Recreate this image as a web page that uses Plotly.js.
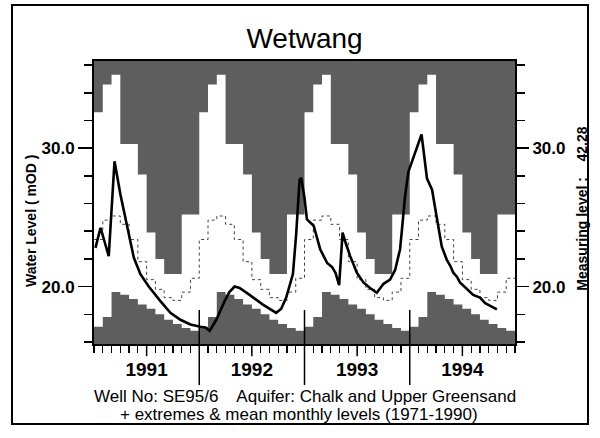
<!DOCTYPE html>
<html>
<head>
<meta charset="utf-8">
<script src="https://cdn.plot.ly/plotly-3.0.1.min.js"></script>
<style>
html,body{margin:0;padding:0;background:#fff;}
#chart{width:600px;height:438px;}
</style>
</head>
<body>
<div id="chart"></div>
<script>
// ---- data ----
const years = [1991, 1992, 1993, 1994];
const yearLabels = ['1991', '1992', '1993', '1994'];
// monthly extremes and mean levels 1971-1990 (Jan..Dec), mOD
const monthMax  = [32.6, 34.6, 35.3, 30.3, 30.3, 28.1, 23.9, 22.0, 20.9, 20.9, 25.2, 25.2];
const monthMin  = [17.1, 17.8, 19.6, 19.4, 19.1, 18.7, 18.4, 18.0, 17.6, 17.3, 17.0, 16.8];
const monthMean = [23.4, 24.8, 25.1, 24.5, 23.4, 21.8, 20.5, 19.8, 19.2, 19.0, 19.6, 20.6];
// observed levels (time in decimal years)
const obsTime = [
  1991.014, 1991.062, 1991.140, 1991.195, 1991.251, 1991.315, 1991.378, 1991.441, 1991.520,
  1991.631, 1991.726, 1991.821, 1991.916, 1992.011, 1992.058, 1992.099, 1992.162, 1992.241,
  1992.286, 1992.336, 1992.383, 1992.478, 1992.605, 1992.731, 1992.779, 1992.826, 1992.890,
  1992.921, 1992.953, 1992.969, 1993.000, 1993.023, 1993.087, 1993.149, 1993.215, 1993.263,
  1993.294, 1993.329, 1993.362, 1993.389, 1993.434, 1993.497, 1993.560, 1993.623, 1993.687,
  1993.751, 1993.813, 1993.861, 1993.908, 1993.927, 1993.955, 1993.987, 1994.031, 1994.112,
  1994.164, 1994.212, 1994.243, 1994.275, 1994.304, 1994.351, 1994.385, 1994.414, 1994.449,
  1994.477, 1994.544, 1994.603, 1994.667, 1994.717, 1994.765, 1994.828
];
const obsLevel = [
  22.8, 24.25, 22.2, 29.05, 26.65, 24.25, 22.1, 20.9, 20.0,
  18.95, 18.1, 17.6, 17.26, 17.1, 17.05, 16.8, 17.6, 18.95,
  19.6, 20.0, 19.9, 19.4, 18.7, 18.1, 18.4, 19.2, 20.9,
  23.8, 27.7, 27.85, 26.4, 24.85, 24.4, 22.7, 21.7, 21.4,
  21.0, 20.1, 23.9, 23.2, 22.2, 21.0, 20.3, 19.9, 19.55,
  20.2, 20.5, 21.2, 22.7, 24.2, 26.5, 28.3, 29.2, 31.0,
  27.8, 27.0, 25.6, 24.1, 22.9, 21.95, 21.5, 21.0, 20.7,
  20.3, 19.8, 19.4, 19.2, 18.8, 18.6, 18.35
];
const yTickVals = [20, 30];
const yTickText = ['20.0', '30.0'];
const titleText = 'Wetwang';
const yTitle = 'Water Level ( mOD )';
const y2Title = 'Measuring level :\u00a0\u00a0\u00a0 42.28';
const footer1 = 'Well No: SE95/6\u00a0\u00a0\u00a0 Aquifer: Chalk and Upper Greensand';
const footer2 = '+ extremes &amp; mean monthly levels (1971-1990)';

// ---- build monthly step series ----
function steps(vals) {
  const xs = [], ys = [];
  years.forEach(Y => vals.forEach((v, m) => { xs.push(Y + m / 12); ys.push(v); }));
  xs.push(years[years.length - 1] + 1); ys.push(vals[vals.length - 1]);
  return {xs, ys};
}
const sMax = steps(monthMax), sMin = steps(monthMin), sMean = steps(monthMean);
const x0 = years[0], x1 = years[years.length - 1] + 1;
const yRange = [15.85, 36.3];
const dark = '#5e5e5e';

const traces = [
  {x: [x0, x1], y: [45, 45], mode: 'lines', line: {width: 0}, hoverinfo: 'skip', showlegend: false},
  {x: sMax.xs, y: sMax.ys, mode: 'lines', line: {width: 0, shape: 'hv'}, fill: 'tonexty', fillcolor: dark, hoverinfo: 'skip', showlegend: false},
  {x: sMin.xs, y: sMin.ys, mode: 'lines', line: {width: 0, shape: 'hv'}, fill: 'tozeroy', fillcolor: dark, hoverinfo: 'skip', showlegend: false},
  {x: sMean.xs, y: sMean.ys, mode: 'lines', line: {width: 1, shape: 'hv', dash: 'dot', color: '#444'}, hoverinfo: 'skip', showlegend: false},
  {x: obsTime, y: obsLevel, yaxis: 'y2', mode: 'lines', line: {width: 2.6, color: '#000'}, showlegend: false}
];

const font = {family: '"Liberation Sans", Arial, Helvetica, sans-serif', color: '#000'};
const tickFontY = {family: font.family, size: 17, color: '#000', weight: 'bold'};

// long separators at year starts, and longer mid-year ticks under the labels
const shapes = years.slice(1).map(Y => ({
  type: 'line', xref: 'x', yref: 'paper', x0: Y, x1: Y, y0: 0.12, y1: -0.145,
  line: {color: '#000', width: 1.5}, layer: 'above'
}));
years.forEach(Y => shapes.push({
  type: 'line', xref: 'x', yref: 'paper', x0: Y + 0.5, x1: Y + 0.5, y0: 0, y1: -0.043,
  line: {color: '#000', width: 1.5}, layer: 'above'
}));
shapes.push({type: 'rect', xref: 'paper', yref: 'paper', x0: -0.1948, x1: 1.1734, y0: -0.2827, y1: 1.198,
  line: {color: '#000', width: 2}, fillcolor: 'rgba(0,0,0,0)'});

const layout = {
  width: 600, height: 438,
  margin: {l: 94, r: 85, t: 61, b: 94, pad: 0},
  paper_bgcolor: '#fff', plot_bgcolor: '#fff',
  font: font,
  showlegend: false,
  title: {text: titleText, font: {family: font.family, size: 28, color: '#000'}, x: 0.5, xref: 'paper', xanchor: 'center', y: 0.913, yanchor: 'middle'},
  xaxis: {
    range: [x0, x1], showgrid: false, zeroline: false,
    showline: true, linecolor: '#000', linewidth: 2, mirror: true,
    tickmode: 'array', tickvals: years.map(Y => Y + 0.5), ticktext: yearLabels,
    ticks: 'outside', ticklen: 7, tickwidth: 1.2, tickcolor: '#000',
    ticklabelstandoff: 0,
    tickfont: {family: font.family, size: 19, color: '#000', weight: 'bold'},
    minor: {tick0: x0, dtick: 1 / 12, ticks: 'outside', ticklen: 7, tickwidth: 1.2, tickcolor: '#000', showgrid: false}
  },
  yaxis: {
    range: yRange, showgrid: false, zeroline: false,
    showline: true, linecolor: '#000', linewidth: 2,
    tickmode: 'array', tickvals: yTickVals, ticktext: yTickText,
    ticks: 'outside', ticklen: 14, tickwidth: 1.5, tickcolor: '#000',
    tickfont: tickFontY,
    minor: {tick0: 0, dtick: 2, ticks: 'outside', ticklen: 8, tickwidth: 1.5, tickcolor: '#000', showgrid: false}
  },
  yaxis2: {
    range: yRange, overlaying: 'y', side: 'right', showgrid: false, zeroline: false,
    showline: true, linecolor: '#000', linewidth: 2,
    tickmode: 'array', tickvals: yTickVals, ticktext: yTickText,
    ticks: 'outside', ticklen: 12, tickwidth: 1.5, tickcolor: '#000',
    tickfont: tickFontY,
    minor: {tick0: 0, dtick: 2, ticks: 'outside', ticklen: 8, tickwidth: 1.5, tickcolor: '#000', showgrid: false}
  },
  shapes: shapes,
  annotations: [
    {text: yTitle, xref: 'paper', yref: 'paper', x: -0.1496, y: 0.4346, xanchor: 'center', yanchor: 'middle', textangle: -90, showarrow: false,
     font: {family: font.family, size: 14, color: '#000', weight: 'bold'}},
    {text: y2Title, xref: 'paper', yref: 'paper', x: 1.1584, y: 0.477, xanchor: 'center', yanchor: 'middle', textangle: -90, showarrow: false,
     font: {family: font.family, size: 14, color: '#000', weight: 'bold'}},
    {text: footer1, xref: 'paper', yref: 'paper', x: 0.5012, y: -0.187, xanchor: 'center', yanchor: 'middle', showarrow: false,
     font: {family: font.family, size: 17, color: '#000'}},
    {text: footer2, xref: 'paper', yref: 'paper', x: 0.487, y: -0.2505, xanchor: 'center', yanchor: 'middle', showarrow: false,
     font: {family: font.family, size: 17, color: '#000'}}
  ]
};

Plotly.newPlot('chart', traces, layout, {displayModeBar: false, staticPlot: true});
</script>
</body>
</html>
